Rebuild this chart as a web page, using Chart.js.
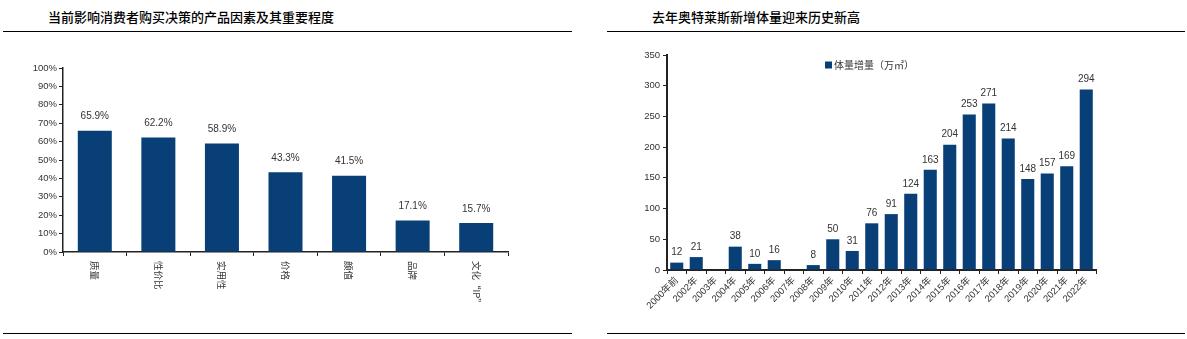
<!DOCTYPE html>
<html lang="zh-CN">
<head>
<meta charset="utf-8">
<script src="https://cdn.jsdelivr.net/npm/chart.js@4.4.1/dist/chart.umd.min.js"></script>
<style>
  html, body { margin: 0; padding: 0; background: #fff; }
  body {
    width: 1187px;
    height: 339px;
    position: relative;
    overflow: hidden;
    font-family: "Noto Sans CJK SC", sans-serif;
  }
  .title {
    position: absolute;
    top: 8px;
    font-size: 13px;
    font-weight: 500;
    line-height: 18px;
    color: #000;
    white-space: nowrap;
  }
  .rule {
    position: absolute;
    height: 0;
    border-top: 1.5px solid #000;
  }
  canvas { position: absolute; top: 40px; }
</style>
</head>
<body>
  <div class="title" style="left: 48px;">当前影响消费者购买决策的产品因素及其重要程度</div>
  <div class="title" style="left: 652px;">去年奥特莱斯新增体量迎来历史新高</div>

  <div class="rule" style="left: 3px; width: 569px; top: 31px;"></div>
  <div class="rule" style="left: 607px; width: 578px; top: 31px;"></div>
  <div class="rule" style="left: 3px; width: 569px; top: 333px;"></div>
  <div class="rule" style="left: 607px; width: 578px; top: 333px;"></div>

  <canvas id="chart-factors" width="560" height="290" style="left: 0;"></canvas>
  <canvas id="chart-volume" width="587" height="290" style="left: 600px;"></canvas>

<script>
  // consumer survey: share of buyers naming each product factor (%)
  const factorLabels = ["质量", "性价比", "实用性", "价格", "颜值", "品牌", "文化“IP”"];
  const factorShares = [65.9, 62.2, 58.9, 43.3, 41.5, 17.1, 15.7];

  // outlet floor area added per year (10k m²), no openings in 2003 / 2007
  const yearLabels = [
    "2000年前", "2002年", "2003年", "2004年", "2005年", "2006年", "2007年",
    "2008年", "2009年", "2010年", "2011年", "2012年", "2013年", "2014年",
    "2015年", "2016年", "2017年", "2018年", "2019年", "2020年", "2021年", "2022年"
  ];
  const volumeAdded = [
    12, 21, null, 38, 10, 16, null, 8, 50, 31, 76,
    91, 124, 163, 204, 253, 271, 214, 148, 157, 169, 294
  ];
  const volumeSeriesName = "体量增量（万㎡）";

  const barColor = "#073f76";
  const axisColor = "#222";
  const textColor = "#333";
  const fontFamily = "'Liberation Sans', 'Noto Sans CJK SC', sans-serif";
  const cjkFamily = "'Noto Sans CJK SC', sans-serif";

  // number above each bar
  const valueLabels = {
    id: "valueLabels",
    afterDatasetsDraw(chart, args, opts) {
      const { ctx } = chart;
      const data = chart.data.datasets[0].data;
      ctx.save();
      ctx.font = `${opts.size}px ${fontFamily}`;
      ctx.fillStyle = textColor;
      ctx.textAlign = "center";
      ctx.textBaseline = "middle";
      chart.getDatasetMeta(0).data.forEach((bar, i) => {
        const v = data[i];
        if (v == null) return;
        ctx.fillText(v.toFixed(opts.decimals) + opts.suffix, bar.x, bar.y - opts.offset);
      });
      ctx.restore();
    }
  };

  // category names written downwards under the axis
  const verticalTicks = {
    id: "verticalTicks",
    afterDraw(chart, args, opts) {
      const { ctx } = chart;
      const x = chart.scales.x;
      ctx.save();
      ctx.font = `${opts.size}px ${cjkFamily}`;
      ctx.fillStyle = textColor;
      ctx.textAlign = "left";
      ctx.textBaseline = "middle";
      chart.data.labels.forEach((label, i) => {
        ctx.save();
        ctx.translate(x.getPixelForTick(i), x.top + opts.padding);
        ctx.rotate(Math.PI / 2);
        ctx.fillText(label, 0, 0);
        ctx.restore();
      });
      ctx.restore();
    }
  };

  // small legend sitting inside the plot
  const insideLegend = {
    id: "insideLegend",
    afterDraw(chart, args, opts) {
      const { ctx } = chart;
      const ds = chart.data.datasets[0];
      ctx.save();
      ctx.fillStyle = ds.backgroundColor;
      ctx.fillRect(opts.x, opts.y - 3.5, 7, 7);
      ctx.font = `${opts.size}px ${cjkFamily}`;
      ctx.fillStyle = textColor;
      ctx.textBaseline = "middle";
      ctx.fillText(ds.label, opts.x + 9, opts.y);
      ctx.restore();
    }
  };

  new Chart(document.getElementById("chart-factors"), {
    type: "bar",
    data: {
      labels: factorLabels,
      datasets: [{
        data: factorShares,
        backgroundColor: barColor,
        categoryPercentage: 1,
        barPercentage: 0.535,
      }],
    },
    options: {
      responsive: false,
      animation: false,
      devicePixelRatio: 1,
      layout: { padding: { top: 28, right: 52, left: 0, bottom: 0 } },
      plugins: {
        legend: { display: false },
        tooltip: { enabled: false },
        valueLabels: { size: 10, decimals: 1, suffix: "%", offset: 14 },
        verticalTicks: { size: 9.5, padding: 9 },
      },
      scales: {
        x: {
          grid: { drawOnChartArea: false, tickLength: 4, color: axisColor },
          border: { color: axisColor, width: 1.5 },
          ticks: { display: false },
          afterFit(scale) { scale.height = 78; },
        },
        y: {
          min: 0,
          max: 100,
          grid: { drawOnChartArea: false, tickLength: 4, color: axisColor },
          border: { color: axisColor, width: 1.5 },
          ticks: {
            stepSize: 10,
            padding: 2,
            color: textColor,
            font: { family: fontFamily, size: 9.5 },
            callback: (v) => v + "%",
          },
          afterFit(scale) { scale.width = 63; },
        },
      },
    },
    plugins: [valueLabels, verticalTicks],
  });

  new Chart(document.getElementById("chart-volume"), {
    type: "bar",
    data: {
      labels: yearLabels,
      datasets: [{
        label: volumeSeriesName,
        data: volumeAdded,
        backgroundColor: barColor,
        categoryPercentage: 1,
        barPercentage: 0.67,
      }],
    },
    options: {
      responsive: false,
      animation: false,
      devicePixelRatio: 1,
      layout: { padding: { top: 15, right: 91, left: 0, bottom: 0 } },
      plugins: {
        legend: { display: false },
        tooltip: { enabled: false },
        valueLabels: { size: 10, decimals: 0, suffix: "", offset: 10 },
        insideLegend: { x: 225, y: 25, size: 10 },
      },
      scales: {
        x: {
          grid: { drawOnChartArea: false, tickLength: 4, color: axisColor },
          border: { color: axisColor, width: 2 },
          ticks: {
            minRotation: 45,
            maxRotation: 45,
            autoSkip: false,
            padding: 1,
            color: textColor,
            font: { family: fontFamily, size: 9.5 },
          },
          afterFit(scale) { scale.height = 60; },
        },
        y: {
          min: 0,
          max: 350,
          grid: { drawOnChartArea: false, tickLength: 4, color: axisColor },
          border: { color: axisColor, width: 2 },
          ticks: {
            stepSize: 50,
            padding: 3,
            color: textColor,
            font: { family: fontFamily, size: 9.5 },
          },
          afterFit(scale) { scale.width = 67; },
        },
      },
    },
    plugins: [valueLabels, insideLegend],
  });
</script>
</body>
</html>
